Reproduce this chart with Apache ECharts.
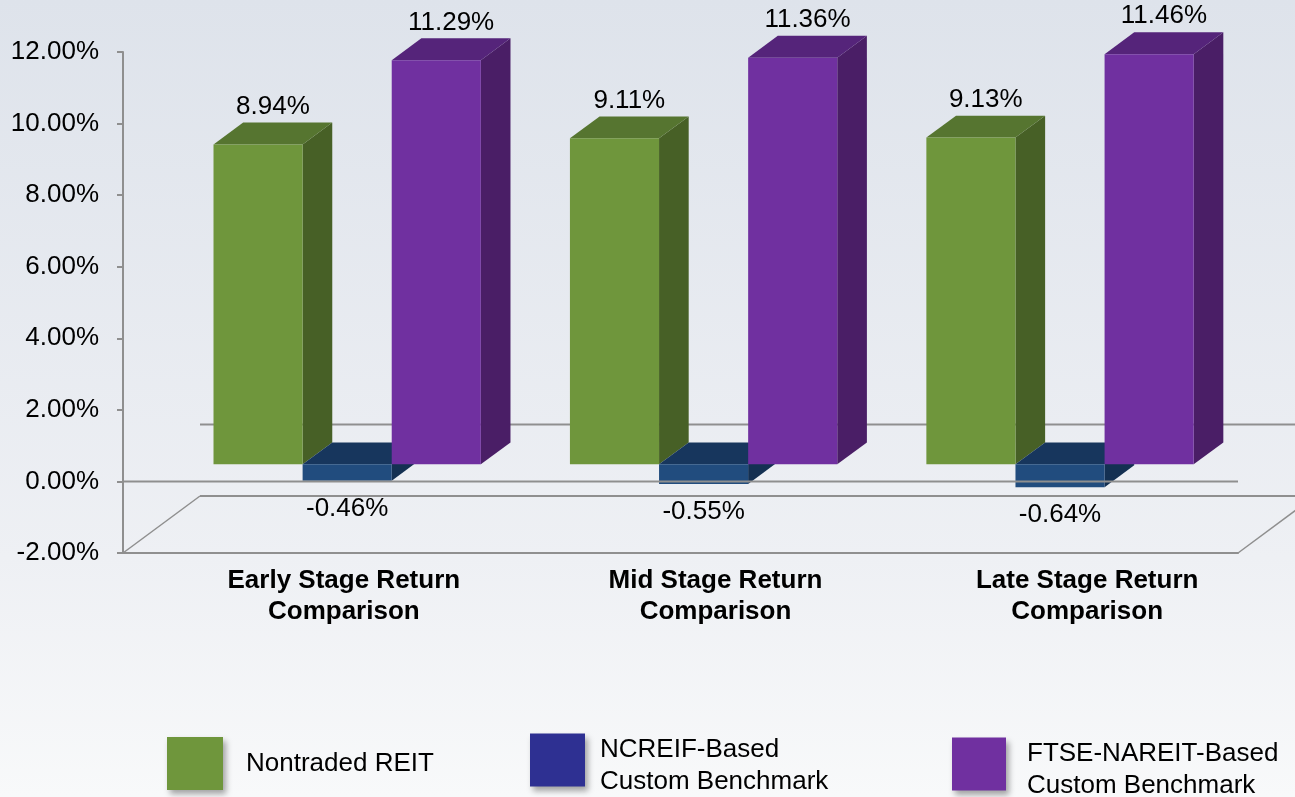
<!DOCTYPE html>
<html>
<head>
<meta charset="utf-8">
<title>Stage Return Comparison</title>
<script src="https://cdn.jsdelivr.net/npm/echarts@6/dist/echarts.min.js"></script>
<style>
  html, body { margin: 0; padding: 0; }
  #chart { width: 1295px; height: 797px; }
</style>
</head>
<body>
<div id="chart"></div>
<script>
// ---- data ----
const categories = [
  'Early Stage Return\nComparison',
  'Mid Stage Return\nComparison',
  'Late Stage Return\nComparison'
];
const seriesNames = [
  'Nontraded REIT',
  'NCREIF-Based Custom Benchmark',
  'FTSE-NAREIT-Based Custom Benchmark'
];
const nontradedReit = [8.94, 9.11, 9.13];
const ncreifBenchmark = [-0.46, -0.55, -0.64];
const ftseNareitBenchmark = [11.29, 11.36, 11.46];
const yMin = -2;
const yMax = 12;
const yStep = 2;

// ---- oblique 3D projection settings ----
const DEPTH_DX = 77;     // full floor depth, horizontal
const DEPTH_DY = -57;    // full floor depth, vertical
const BAR_FRONT = 0.30;  // bar front face position along depth
const BAR_BACK = 0.685;  // bar back face position along depth
const SQUEEZE = 0.959;   // horizontal scale of the bar row
const FONT = '"Liberation Sans", Arial, Helvetica, sans-serif';
const LINE_COLOR = '#8f8f8f';

const palettes = [
  { front: '#6f963c', top: '#567530', side: '#476026', legend: '#6f963c' },
  { front: '#214c7e', top: '#17365d', side: '#143052', legend: '#2e3092' },
  { front: '#7030a0', top: '#55247a', side: '#4a1e66', legend: '#7030a0' }
];

function fmtPct(v) { return v.toFixed(2) + '%'; }

function boxRenderer(idx) {
  const pal = palettes[idx];
  return function (params, api) {
    const cat = api.value(0);
    const val = api.value(1);
    const cs = params.coordSys;
    const p0 = api.coord([cat, 0]);
    const p1 = api.coord([cat, val]);
    const band = api.size([1, 0])[0];
    const mid = cs.x + cs.width / 2;
    const cx = mid + (p0[0] - mid) * SQUEEZE + DEPTH_DX * BAR_FRONT;
    const w = band * SQUEEZE / 4;
    const left = cx - 1.5 * w + idx * w;
    const right = left + w;
    const yBase = p0[1] + DEPTH_DY * BAR_FRONT;
    const yVal = p1[1] + DEPTH_DY * BAR_FRONT;
    const yTop = Math.min(yBase, yVal);
    const yBot = Math.max(yBase, yVal);
    const ddx = DEPTH_DX * (BAR_BACK - BAR_FRONT);
    const ddy = DEPTH_DY * (BAR_BACK - BAR_FRONT);

    const label = val >= 0
      ? { x: left + (w + ddx) / 2, y: yTop + ddy - 16 }
      : { x: left + w / 2, y: yBot + 28 };

    return {
      type: 'group',
      children: [
        {
          type: 'polygon',
          shape: { points: [[right, yTop], [right + ddx, yTop + ddy], [right + ddx, yBot + ddy], [right, yBot]] },
          style: { fill: pal.side }
        },
        {
          type: 'polygon',
          shape: { points: [[left, yTop], [right, yTop], [right + ddx, yTop + ddy], [left + ddx, yTop + ddy]] },
          style: { fill: pal.top }
        },
        {
          type: 'rect',
          shape: { x: left, y: yTop, width: w, height: yBot - yTop },
          style: { fill: pal.front }
        },
        {
          type: 'text',
          style: {
            text: fmtPct(val), x: label.x, y: label.y,
            align: 'center', verticalAlign: 'middle',
            fontSize: 26, fontFamily: FONT, fill: '#000'
          }
        }
      ]
    };
  };
}

// Floor and back-wall lines of the 3D frame
function frameRenderer(params, api) {
  const cs = params.coordSys;
  const xL = cs.x, xR = cs.x + cs.width;
  const yFloor = api.coord([0, yMin])[1];
  const yZero = api.coord([0, 0])[1];
  const ls = { stroke: LINE_COLOR, lineWidth: 2 };
  const seg = (x1, y1, x2, y2, lw) => ({
    type: 'line', shape: { x1, y1, x2, y2 },
    style: Object.assign({}, ls, lw ? { lineWidth: lw } : {})
  });
  return {
    type: 'group',
    children: [
      seg(xL + DEPTH_DX, yZero + DEPTH_DY, xR + DEPTH_DX, yZero + DEPTH_DY),
      seg(xL + DEPTH_DX, yFloor + DEPTH_DY, xR + DEPTH_DX, yFloor + DEPTH_DY),
      seg(xL, yFloor, xL + DEPTH_DX, yFloor + DEPTH_DY, 1.5),
      seg(xR, yFloor, xR + DEPTH_DX, yFloor + DEPTH_DY, 1.5)
    ]
  };
}

// Front zero line, drawn over the bars
function zeroLineRenderer(params, api) {
  const cs = params.coordSys;
  const yZero = api.coord([0, 0])[1];
  return {
    type: 'line',
    shape: { x1: cs.x, y1: yZero, x2: cs.x + cs.width, y2: yZero },
    style: { stroke: LINE_COLOR, lineWidth: 2 }
  };
}

const valueSets = [nontradedReit, ncreifBenchmark, ftseNareitBenchmark];

const barSeries = valueSets.map((vals, i) => ({
  type: 'custom',
  name: seriesNames[i],
  renderItem: boxRenderer(i),
  data: vals.map((v, c) => [c, v]),
  encode: { x: 0, y: 1 },
  itemStyle: { color: palettes[i].legend },
  z: 3 + i
}));

const legendSpots = [
  { left: 162, top: 732, w: 56, h: 53, pad: 18 },
  { left: 525, top: 722, w: 55, h: 53, pad: 10 },
  { left: 947, top: 726, w: 54, h: 53, pad: 16 }
];

// Two-line legend labels sit a little below their swatch centre
function legendText(name) {
  const parts = name.split(' Custom');
  if (parts.length < 2) return '{t|' + name + '}';
  return '{g|}\n{t|' + parts[0] + '}\n{t|Custom' + parts[1] + '}';
}

const option = {
  animation: false,
  backgroundColor: {
    type: 'linear', x: 0, y: 0, x2: 0, y2: 1,
    colorStops: [
      { offset: 0, color: '#dee3eb' },
      { offset: 0.7, color: '#eef0f4' },
      { offset: 1, color: '#f8f9fa' }
    ]
  },
  grid: { left: 123, right: 57, top: 52, bottom: 244 },
  xAxis: {
    type: 'category',
    data: categories,
    boundaryGap: true,
    axisLine: { show: true, onZero: false, lineStyle: { color: LINE_COLOR, width: 2 } },
    axisTick: { show: false },
    axisLabel: {
      margin: 12,
      fontSize: 26,
      fontWeight: 'bold',
      fontFamily: FONT,
      color: '#000',
      lineHeight: 31,
      padding: [0, 0, 0, 70],
      interval: 0
    },
    splitLine: { show: false }
  },
  yAxis: {
    type: 'value',
    min: yMin, max: yMax, interval: yStep,
    axisLine: { show: true, lineStyle: { color: LINE_COLOR, width: 2 } },
    axisTick: { show: true, length: 6, lineStyle: { color: LINE_COLOR, width: 2 } },
    axisLabel: {
      margin: 24,
      fontSize: 26,
      fontFamily: FONT,
      color: '#000',
      formatter: v => fmtPct(v)
    },
    splitLine: { show: false }
  },
  legend: seriesNames.map((name, i) => ({
    left: legendSpots[i].left,
    top: legendSpots[i].top,
    orient: 'horizontal',
    selectedMode: false,
    icon: 'rect',
    itemWidth: legendSpots[i].w,
    itemHeight: legendSpots[i].h,
    data: [{
      name,
      itemStyle: {
        color: palettes[i].legend,
        shadowBlur: 6, shadowOffsetX: 3, shadowOffsetY: 4,
        shadowColor: 'rgba(0,0,0,0.35)'
      }
    }],
    formatter: legendText,
    textStyle: {
      fontSize: 26, fontFamily: FONT, color: '#000',
      padding: [0, 0, 0, legendSpots[i].pad],
      rich: {
        g: { lineHeight: 12, fontSize: 2 },
        t: { fontSize: 26, fontFamily: FONT, color: '#000', lineHeight: 32 }
      }
    }
  })),
  series: [
    {
      type: 'custom',
      name: 'frame',
      renderItem: frameRenderer,
      data: [[0, 0]],
      encode: { x: 0, y: 1 },
      silent: true,
      z: 1
    },
    ...barSeries,
    {
      type: 'custom',
      name: 'zero',
      renderItem: zeroLineRenderer,
      data: [[0, 0]],
      encode: { x: 0, y: 1 },
      silent: true,
      z: 10
    }
  ]
};

const chart = echarts.init(document.getElementById('chart'), null, { renderer: 'canvas' });
chart.setOption(option);
</script>
</body>
</html>
